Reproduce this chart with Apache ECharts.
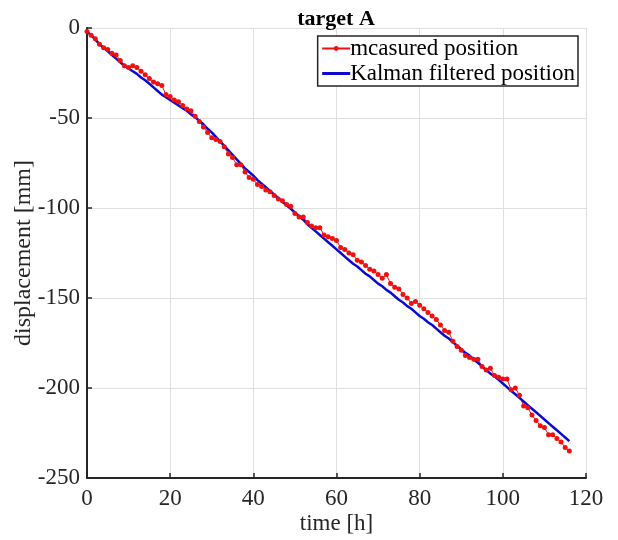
<!DOCTYPE html>
<html>
<head>
<meta charset="utf-8">
<script src="https://cdn.jsdelivr.net/npm/echarts@6/dist/echarts.min.js"></script>
<style>
  html, body { margin: 0; padding: 0; background: #fff; }
  #chart { width: 618px; height: 540px; }
</style>
</head>
<body>
<div id="chart"></div>
<script>
// time in hours, one sample per hour
const hours = [
  0, 1, 2, 3, 4, 5, 6, 7, 8, 9, 10, 11, 12, 13, 14, 15, 16, 17, 18, 19,
  20, 21, 22, 23, 24, 25, 26, 27, 28, 29, 30, 31, 32, 33, 34, 35, 36, 37, 38, 39,
  40, 41, 42, 43, 44, 45, 46, 47, 48, 49, 50, 51, 52, 53, 54, 55, 56, 57, 58, 59,
  60, 61, 62, 63, 64, 65, 66, 67, 68, 69, 70, 71, 72, 73, 74, 75, 76, 77, 78, 79,
  80, 81, 82, 83, 84, 85, 86, 87, 88, 89, 90, 91, 92, 93, 94, 95, 96, 97, 98, 99,
  100, 101, 102, 103, 104, 105, 106, 107, 108, 109, 110, 111, 112, 113, 114, 115, 116
]

const measured = [
  -2, -4, -6, -9, -11, -12, -14, -15, -18, -21, -22, -21, -22, -24, -26, -28, -30, -31, -32, -37,
  -38, -40, -41, -43, -45, -46, -49, -52, -55, -58, -61, -62, -63, -66, -70, -72, -76, -76, -80, -83,
  -84, -87, -88, -90, -91, -93, -95, -96, -98, -99, -103, -105, -105, -108, -110, -111, -111, -115, -116, -117,
  -118, -122, -123, -125, -126, -129, -130, -132, -134, -135, -137, -139, -137, -142, -144, -145, -148, -150, -153, -152,
  -154, -156, -158, -160, -162, -165, -168, -169, -174, -177, -179, -182, -183, -184, -184, -188, -190, -189, -193, -194,
  -195, -195, -201, -200, -204, -210, -211, -215, -218, -221, -222, -226, -226, -228, -230, -233, -235
]

const filtered = [
  -2, -4, -6.5, -9, -11, -13, -15, -17, -19, -21, -22.5, -24, -25.5, -27.5, -29, -31, -33, -35, -37, -38.5,
  -40, -41.5, -43, -44.5, -46, -48, -49.5, -51.5, -53.5, -56, -58, -60.5, -63, -65.5, -68, -70.5, -73, -75.5, -78, -80,
  -82, -84.5, -86.5, -88.5, -90.5, -92.5, -94.5, -96.5, -98.5, -100.5, -102.5, -104.5, -106.5, -109, -111, -113, -115, -117, -119, -121,
  -123, -125, -127, -129, -131, -132.5, -134.5, -136.5, -138, -140, -142, -143.5, -145.5, -147, -149, -151, -152.5, -154.5, -156, -158,
  -160, -161.5, -163.5, -165, -167, -169, -171, -172.5, -174.5, -176.5, -178.5, -180.5, -182, -184, -186, -188, -190, -192, -193.5, -195.5,
  -197.5, -199.5, -201.5, -203.5, -205.5, -207.5, -209.5, -211.5, -213.5, -215.5, -217.5, -219.5, -221.5, -223.5, -225.5, -227.5, -229.5
]

const serif = "'Liberation Serif', 'Times New Roman', serif"
const chart = echarts.init(document.getElementById('chart'))

chart.setOption({
  animation: false,
  backgroundColor: '#fff',
  title: {
    text: 'target A',
    left: 331,
    top: 3,
    textAlign: 'center',
    textStyle: { fontFamily: serif, fontSize: 22, fontWeight: 'bold', color: '#000' }
  },
  grid: { left: 87, right: 32, top: 28, bottom: 62, outerBoundsMode: 'none' },
  legend: {
    right: 40,
    top: 36,
    orient: 'vertical',
    backgroundColor: '#fff',
    borderColor: '#262626',
    borderWidth: 1.5,
    borderRadius: 0,
    padding: [1, 3, 1, 3],
    itemGap: 2,
    itemWidth: 28,
    itemHeight: 6,
    textStyle: { fontFamily: serif, fontSize: 23, color: '#000', padding: [0, 0, 0, -5] },
    data: [
      { name: 'mcasured position' },
      { name: 'Kalman filtered position', itemStyle: { opacity: 0 }, lineStyle: { width: 3 } }
    ]
  },
  xAxis: {
    type: 'value',
    min: 0,
    max: 120,
    interval: 20,
    name: 'time [h]',
    nameLocation: 'middle',
    nameGap: 34,
    nameMoveOverlap: false,
    nameTextStyle: { fontFamily: serif, fontSize: 23, color: '#262626' },
    axisLine: { onZero: false, lineStyle: { color: '#262626', width: 2 } },
    axisTick: { inside: true, length: 5, lineStyle: { color: '#262626', width: 1.5 } },
    axisLabel: { fontFamily: serif, fontSize: 23, color: '#262626', margin: 9 },
    splitLine: { show: true, lineStyle: { color: '#dfdfdf', width: 1 } }
  },
  yAxis: {
    type: 'value',
    min: -250,
    max: 0,
    interval: 50,
    name: 'displacement [mm]',
    nameLocation: 'middle',
    nameGap: 51,
    nameMoveOverlap: false,
    nameTextStyle: { fontFamily: serif, fontSize: 24, color: '#262626' },
    axisLine: { show: true, onZero: false, lineStyle: { color: '#262626', width: 2 } },
    axisTick: { show: true, inside: true, length: 5, lineStyle: { color: '#262626', width: 1.5 } },
    axisLabel: { fontFamily: serif, fontSize: 23, color: '#262626', margin: 7 },
    splitLine: { show: true, lineStyle: { color: '#dfdfdf', width: 1 } }
  },
  series: [
    {
      name: 'mcasured position',
      type: 'line',
      data: hours.map((t, i) => [t, measured[i]]),
      symbol: 'circle',
      symbolSize: 5,
      showAllSymbol: true,
      itemStyle: { color: '#f01010' },
      lineStyle: { color: '#f01010', width: 1 }
    },
    {
      name: 'Kalman filtered position',
      type: 'line',
      data: hours.map((t, i) => [t, filtered[i]]),
      symbol: 'none',
      itemStyle: { color: '#0a0ad0' },
      lineStyle: { color: '#0a0ad0', width: 2.5 }
    }
  ]
})
</script>
</body>
</html>
